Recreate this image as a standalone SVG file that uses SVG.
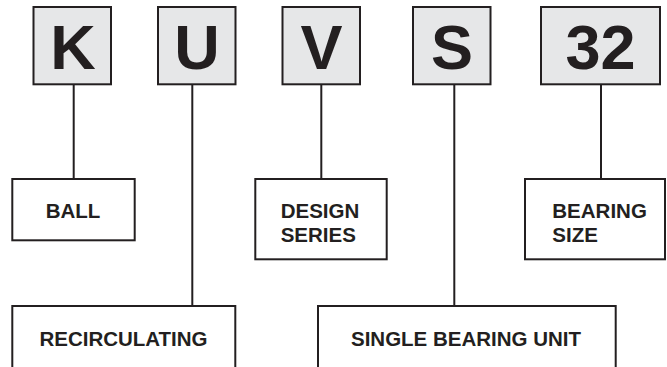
<svg xmlns="http://www.w3.org/2000/svg" width="667" height="367" viewBox="0 0 667 367">
<style>
.code{fill:#e6e7e8;stroke:#231f20;stroke-width:2}
.box{fill:#fff;stroke:#231f20;stroke-width:2}
.big{font-family:"Liberation Sans",Arial,sans-serif;font-weight:bold;font-size:63px;fill:#231f20;text-anchor:middle}
.lbl{font-family:"Liberation Sans",Arial,sans-serif;font-weight:bold;font-size:20.5px;fill:#231f20}
.mid{text-anchor:middle}
.conn line{stroke:#231f20;stroke-width:2}
</style>
<rect width="667" height="367" fill="#fff"/>
<g id="connectors" class="conn">
<line x1="73.7" y1="84" x2="73.7" y2="179"/>
<line x1="192.3" y1="84" x2="192.3" y2="306"/>
<line x1="321.3" y1="84" x2="321.3" y2="179"/>
<line x1="454.3" y1="84" x2="454.3" y2="306"/>
<line x1="601" y1="84" x2="601" y2="179"/>
</g>
<g id="K"><rect class="code" x="33.5" y="7" width="77.5" height="77.3"/><text class="big" x="73" y="69">K</text></g>
<g id="U"><rect class="code" x="158" y="7" width="77.5" height="77.3"/><text class="big" x="197" y="69">U</text></g>
<g id="V"><rect class="code" x="282.5" y="7" width="77.5" height="77.3"/><text class="big" x="321.5" y="69">V</text></g>
<g id="S"><rect class="code" x="413" y="7" width="77.5" height="77.3"/><text class="big" x="452" y="69">S</text></g>
<g id="n32"><rect class="code" x="541" y="7" width="119" height="77.3"/><text class="big" x="600.5" y="69">32</text></g>
<g id="ball"><rect class="box" x="12.3" y="179" width="122.4" height="61.3"/><text class="lbl mid" x="73" y="217.7">BALL</text></g>
<g id="design"><rect class="box" x="255.3" y="179" width="131.4" height="80.3"/><text class="lbl" x="280.7" y="218.3">DESIGN</text><text class="lbl" x="280.7" y="241.7">SERIES</text></g>
<g id="size"><rect class="box" x="525" y="179" width="140" height="80.3"/><text class="lbl" x="552.3" y="218.3">BEARING</text><text class="lbl" x="552.3" y="241.7">SIZE</text></g>
<g id="recirc"><rect class="box" x="12.3" y="306" width="223" height="70"/><text class="lbl mid" x="123.5" y="345.7">RECIRCULATING</text></g>
<g id="single"><rect class="box" x="318" y="306" width="297.7" height="70"/><text class="lbl mid" x="466" y="345.7">SINGLE BEARING UNIT</text></g>
</svg>
